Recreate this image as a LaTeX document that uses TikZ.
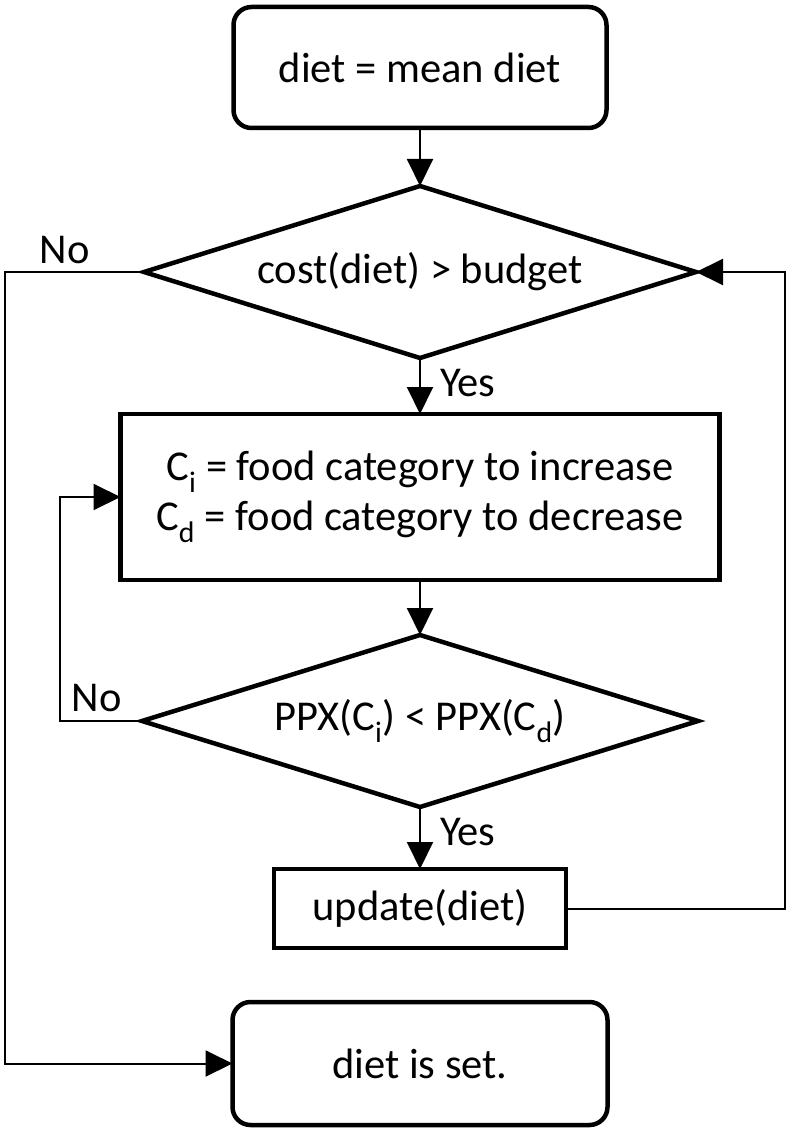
\documentclass[tikz,border=0pt]{standalone}
\usepackage{fontspec}
\setmainfont{Carlito}
\usetikzlibrary{arrows.meta,positioning,shapes.geometric}

\begin{document}
\begin{tikzpicture}[x=1pt, y=1pt, font=\fontsize{42.5}{50}\selectfont,
    >={Triangle[length=27pt,width=26pt]},
    every node/.style={outer sep=0pt},
    terminal/.style={draw, line width=4.5pt, rounded corners=18pt, minimum width=373pt, minimum height=121pt, inner sep=0pt},
    decision/.style={draw, diamond, line width=4.5pt, aspect=3.2, minimum width=552pt, minimum height=172pt, inner sep=0pt},
    process/.style={draw, rectangle, line width=4.5pt, inner sep=0pt, align=center},
    link/.style={->, line width=2pt},
    lbl/.style={inner sep=0pt}]
    \useasboundingbox (0,0) rectangle (789,-1131);

    \node[terminal]                   (start)   at (420,-67.5)            {diet = mean diet};
    \node[decision]                   (budget)  [below=58pt of start]     {cost(diet) > budget};
    \node[process, minimum width=599pt, minimum height=166pt]
                                      (pick)    [below=56pt of budget]    {C\textsubscript{i} = food category to increase\\C\textsubscript{d} = food category to decrease};
    \node[decision, minimum width=556pt]
                                      (compare) [below=55pt of pick]      {PPX(C\textsubscript{i}) < PPX(C\textsubscript{d})};
    \node[process, minimum width=292pt, minimum height=79pt]
                                      (update)  [below=62pt of compare]   {update(diet)};
    \node[terminal, minimum width=375pt, minimum height=123pt]
                                      (done)    [below=54pt of update]    {diet is set.};

    % rails of the loops
    \coordinate (outerrail) at (5,0);
    \coordinate (innerrail) at (60,0);
    \coordinate (backrail)  at (785,0);

    \draw[link] (start) -- (budget);
    \draw[link] (budget) -- node[lbl, right=20pt, pos=0.45] {Yes} (pick);
    \draw[link] (pick) -- (compare);
    \draw[link] (compare) -- node[lbl, right=20pt, pos=0.4] {Yes} (update);
    \draw[link] (budget.west) -- node[lbl, above=8pt, pos=0.57] {No} (budget.west -| outerrail) |- (done.west);
    \draw[link] (compare.west) -- node[lbl, above=9pt, pos=0.55] {No} (compare.west -| innerrail) |- (pick.west);
    \draw[link] (update.east) -- (update.east -| backrail) |- (budget.east);
\end{tikzpicture}
\end{document}
